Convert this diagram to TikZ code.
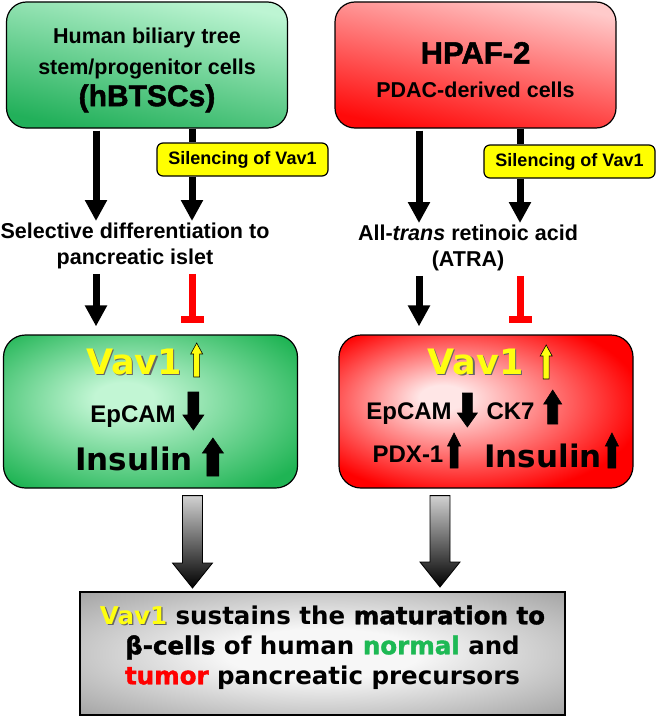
\documentclass[tikz,border=0pt]{standalone}
\usepackage{fontspec}
\setmainfont{Liberation Sans}
\newfontfamily\verdfont{DejaVu Sans}
\newfontfamily\verdheavy{DejaVu Sans Bold}[FakeBold=1.6]
\newfontfamily\arialheavy{Liberation Sans Bold}[FakeBold=1.6]
\usetikzlibrary{arrows.meta,positioning,calc}
\definecolor{CellGreenLight}{HTML}{BDF5D3}
\definecolor{CellGreenDark}{HTML}{22B05A}
\definecolor{CellRedLight}{HTML}{FFCACA}
\definecolor{CellRedDark}{HTML}{FF0A0A}
\definecolor{GlowGreenIn}{HTML}{C2F6D4}
\definecolor{GlowGreenOut}{HTML}{1FB454}
\definecolor{GlowRedIn}{HTML}{FFE6E6}
\definecolor{GlowRedOut}{HTML}{FF0000}
\definecolor{GlowGrayIn}{HTML}{F7F7F7}
\definecolor{GlowGrayOut}{HTML}{888888}
\definecolor{SilYellow}{HTML}{FFFF00}
\definecolor{VavYellow}{HTML}{FFFF10}
\definecolor{NormGreen}{HTML}{1DB954}
\definecolor{TumRed}{HTML}{FF0000}
\definecolor{StopRed}{HTML}{FF0000}
\pgfdeclareradialshading{glowgreen}{\pgfpoint{-5bp}{5bp}}{color(0bp)=(GlowGreenIn); color(5bp)=(GlowGreenIn); color(33bp)=(GlowGreenOut); color(50bp)=(GlowGreenOut)}
\pgfdeclareradialshading{glowred}{\pgfpoint{-8bp}{5bp}}{color(0bp)=(GlowRedIn); color(4bp)=(GlowRedIn); color(30bp)=(GlowRedOut); color(50bp)=(GlowRedOut)}
\pgfdeclareradialshading{glowgray}{\pgfpoint{0bp}{0bp}}{color(0bp)=(GlowGrayIn); color(10bp)=(GlowGrayIn); color(44bp)=(GlowGrayOut); color(50bp)=(GlowGrayOut)}
\newcommand{\shadtxt}[2]{\makebox[0pt][l]{\kern1.3pt\raisebox{-1.3pt}{\color{black!60}#2}}{\color{#1}#2}}
\tikzset{
  cellbox/.style={draw=black, line width=1.2pt, rounded corners=20pt,
                  minimum width=281pt, minimum height=126pt},
  greencell/.style={cellbox, top color=CellGreenLight, bottom color=CellGreenDark, shading angle=-12},
  redcell/.style={cellbox, top color=CellRedLight, bottom color=CellRedDark, shading angle=-12},
  celltxt/.style={align=center, inner sep=0pt, font=\bfseries\fontsize{21.5}{31}\selectfont},
  silbox/.style={draw=black, line width=1.2pt, fill=SilYellow, rounded corners=6pt,
                 minimum width=171pt, minimum height=33pt,
                 font=\bfseries\fontsize{18}{20}\selectfont},
  steptxt/.style={align=center, inner sep=2pt, font=\bfseries\fontsize{21.5}{25.5}\selectfont},
  glowbox/.style={draw=black, line width=1.2pt, rounded corners=22pt, shade,
                  minimum width=294pt, minimum height=153pt},
  markertxt/.style={anchor=base, inner sep=0pt, font=\bfseries\fontsize{24}{28}\selectfont},
  vavtxt/.style={markertxt, font=\verdfont\bfseries\fontsize{35}{40}\selectfont},
  insultxt/.style={markertxt, font=\verdfont\bfseries\fontsize{31}{36}\selectfont},
  summary/.style={draw=black, line width=2pt, shade, shading=glowgray,
                  minimum width=485pt, minimum height=123pt},
  summarytxt/.style={align=center, inner sep=0pt,
                  font=\verdfont\bfseries\fontsize{24.5}{30}\selectfont},
  blkarrow/.style={-{Triangle[length=21pt,width=21pt]}, line width=7pt},
  stopbar/.style={-{Bar[width=23pt]}, line width=7pt, StopRed},
}
\begin{document}
\begin{tikzpicture}[x=1pt,y=-1pt]
  \useasboundingbox (0,0) rectangle (657,717);

  % \boxarrow{fill}{tip}{dir: 1 up, -1 down}{length}{half shaft}{half head}{head length}
  \newcommand{\boxarrow}[7]{%
    \filldraw[fill=#1, draw=black, line width=0.6pt]
      (#2) -- ++(#6,{(#3)*(#7)}) -- ++({#5-#6},0) -- ++(0,{(#3)*(#4-#7)})
      -- ++({-2*#5},0) -- ++(0,{(#3)*(#7-#4)}) -- ++({#5-#6},0) -- cycle;
  }
  % \fatdown{top}{tip}
  \newcommand{\fatdown}[2]{%
    \shade[draw=black, line width=0.8pt, top color=black!18, middle color=black!50, bottom color=black]
      ($(#1)+(-10,0)$) -- ($(#1)+(10,0)$) -- ($(#2)+(10,-25)$) -- ($(#2)+(20,-25)$) -- (#2)
      -- ($(#2)+(-20,-25)$) -- ($(#2)+(-10,-25)$) -- cycle;
  }

  % columns of the connectors
  \coordinate (colA) at (96,0);
  \coordinate (colB) at (192,0);
  \coordinate (colC) at (419,0);
  \coordinate (colD) at (520,0);
  \coordinate (colE) at (192.5,0);
  \coordinate (colF) at (440,0);

  % starting cells
  \node[greencell] (topL) at (147,65) {};
  \node[celltxt] (topLtxt) at ($(topL.center)+(0,5)$)
    {Human biliary tree\\stem/progenitor cells\\[1pt]{\arialheavy\fontsize{30}{34}\selectfont (hBTSCs)}};
  \node[redcell] (topR) at (475.5,65) {};
  \node[celltxt] (topRtxt) at ($(topR.center)+(0,5)$)
    {{\arialheavy\fontsize{31}{36}\selectfont HPAF-2}\\[3pt]PDAC-derived cells};

  \node[silbox] (silL) at (242.5,159.5) {Silencing of Vav1};
  \node[silbox] (silR) at (569.5,161.5) {Silencing of Vav1};

  \node[steptxt] (diffL) at (135,246) {Selective differentiation to\\pancreatic islet};
  \node[steptxt] (atraR) at (468,248) {All-\textit{trans} retinoic acid\\(ATRA)};

  % outcome boxes
  \node[glowbox, shading=glowgreen] (boxL) at (150.5,411.5) {};
  \node[glowbox, shading=glowred] (boxR) at (486,411.5) {};

  \node[vavtxt] (vavL) at (134,374) {\shadtxt{VavYellow}{Vav1}};
  \node[markertxt] (epL) at (133,422) {EpCAM};
  \node[insultxt] (insL) at (134,470) {Insulin};

  \node[vavtxt] (vavR) at (475.5,374) {\shadtxt{VavYellow}{Vav1}};
  \node[markertxt] (epR) at (409,419) {EpCAM};
  \node[markertxt] (ckR) at (510.5,419) {CK7};
  \node[markertxt] (pdxR) at (408,462) {PDX-1};
  \node[insultxt] (insR) at (543,467) {Insulin};

  \boxarrow{VavYellow}{$(vavL.base east)+(14.5,-31)$}{1}{34}{3}{6}{11}
  \boxarrow{black}{$(epL.base east)+(17.5,8)$}{-1}{38}{5.5}{10.5}{15}
  \boxarrow{black}{$(insL.base east)+(20,-32)$}{1}{38}{6}{10.5}{15}
  \boxarrow{VavYellow}{$(vavR.base east)+(22.5,-29)$}{1}{34}{3}{6}{11}
  \boxarrow{black}{$(epR.base east)+(15.5,8)$}{-1}{34}{5}{10}{14}
  \boxarrow{black}{$(ckR.base east)+(18,-29)$}{1}{34}{5}{9}{14}
  \boxarrow{black}{$(pdxR.base east)+(10.5,-29)$}{1}{35}{4}{6.5}{13}
  \boxarrow{black}{$(insR.base east)+(10,-34)$}{1}{35}{4}{6.5}{13}

  % conclusion
  \node[summary] (sumbox) at (322.5,653.5) {};
  \node[summarytxt] (sumtxt) at ($(sumbox.center)+(0,-6)$)
    {\shadtxt{VavYellow}{Vav1} sustains the {\verdheavy maturation to}\\
     {\verdheavy β-cells} of human {\verdheavy\color{NormGreen}normal} and\\
     {\verdheavy\color{TumRed}tumor} pancreatic precursors};

  % connectors
  \draw[blkarrow, shorten <=2pt] (topL.south -| colA) -- (diffL.north -| colA);
  \draw[line width=7pt] (topL.south -| colB) -- (silL.north -| colB);
  \draw[blkarrow] (silL.south -| colB) -- (diffL.north -| colB);
  \draw[blkarrow, shorten <=3pt, shorten >=8pt] (diffL.south -| colA) -- (boxL.north -| colA);
  \draw[stopbar, shorten <=3pt, shorten >=11pt] (diffL.south -| colB) -- (boxL.north -| colB);

  \draw[blkarrow, shorten <=2pt] (topR.south -| colC) -- (atraR.north -| colC);
  \draw[line width=7pt] (topR.south -| colD) -- (silR.north -| colD);
  \draw[blkarrow] (silR.south -| colD) -- (atraR.north -| colD);
  \draw[blkarrow, shorten <=3pt, shorten >=8pt] (atraR.south -| colC) -- (boxR.north -| colC);
  \draw[stopbar, shorten <=3pt, shorten >=11pt] (atraR.south -| colD) -- (boxR.north -| colD);

  \coordinate (gL1) at ($(boxL.south -| colE)+(0,7)$);
  \coordinate (gL2) at ($(sumbox.north -| colE)+(0,-3)$);
  \coordinate (gR1) at ($(boxR.south -| colF)+(0,7)$);
  \coordinate (gR2) at ($(sumbox.north -| colF)+(0,-4)$);
  \fatdown{gL1}{gL2}
  \fatdown{gR1}{gR2}

\end{tikzpicture}
\end{document}
